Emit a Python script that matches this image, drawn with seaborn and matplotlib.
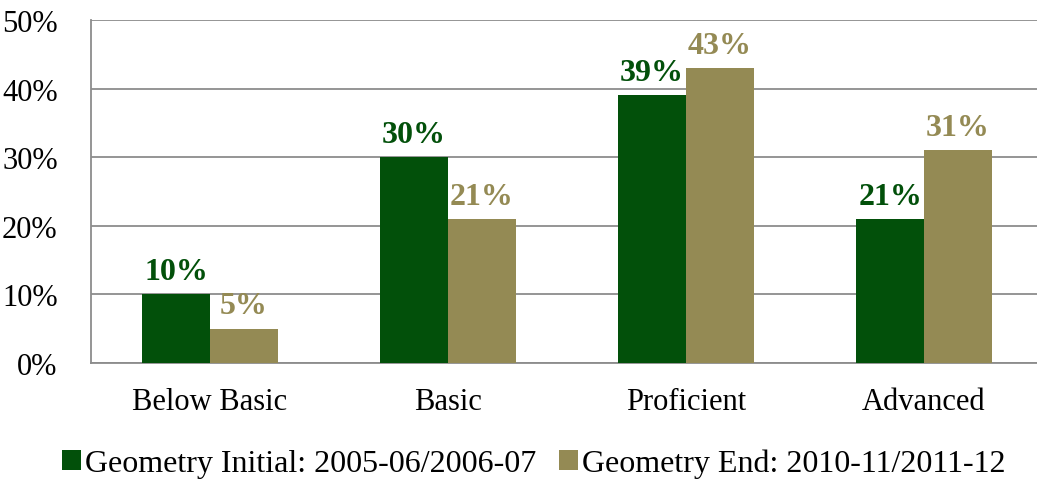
import numpy as np
import pandas as pd
import matplotlib.pyplot as plt
import seaborn as sns
from matplotlib.ticker import FuncFormatter

# Chart values
categories = ["Below Basic", "Basic", "Proficient", "Advanced"]
series_names = ["Geometry Initial: 2005-06/2006-07", "Geometry End: 2010-11/2011-12"]
initial_vals = [10, 30, 39, 21]
end_vals = [5, 21, 43, 31]
colors = ["#02500A", "#948A54"]

df = pd.DataFrame({
    "level": categories * 2,
    "pct": initial_vals + end_vals,
    "series": [series_names[0]] * 4 + [series_names[1]] * 4,
})

sns.set_style("white")
plt.rcParams['font.family'] = ['Liberation Serif', 'DejaVu Serif']
plt.rcParams['text.color'] = 'black'

fig = plt.figure(figsize=(10.37, 4.81), dpi=100)
ax = fig.add_axes([91 / 1037, 117 / 481, 952 / 1037, 343 / 481])

sns.barplot(data=df, x="level", y="pct", hue="series", palette=colors,
            width=0.57, gap=0, saturation=1, linewidth=0, ax=ax, zorder=3)

ax.set_ylim(0, 50)
ax.set_xlim(-0.5, 3.5)
ax.set_yticks(np.arange(0, 51, 10))
ax.yaxis.set_major_formatter(FuncFormatter(lambda v, p: f"{v:.0f}%"))
ax.grid(axis="y", color="#8c8c8c", linewidth=1.3, zorder=0)
ax.set_xlabel("")
ax.set_ylabel("")

# category separators as tick marks
ax.set_xticks([0, 1, 2, 3])
ax.set_xticks(np.arange(-0.5, 3.6, 1), minor=True)
ax.tick_params(axis="x", which="major", length=0, labelsize=22, pad=17, colors="black")
ax.tick_params(axis="x", which="minor", length=9, width=1.3, color="#8c8c8c")
ax.tick_params(axis="y", length=9, width=1.3, color="#8c8c8c", labelcolor="black",
               labelsize=22, pad=15)

for s in ["top", "right"]:
    ax.spines[s].set_visible(False)
for s in ["left", "bottom"]:
    ax.spines[s].set_color("#8c8c8c")
    ax.spines[s].set_linewidth(1.3)

for cont, col in zip(ax.containers, colors):
    ax.bar_label(cont, labels=[f"{v:.0f}%" for v in cont.datavalues],
                 color=col, fontsize=23, fontweight="bold", padding=6)

leg = ax.legend(loc="center", bbox_to_anchor=(0.465, -0.293),
                ncol=2, frameon=False, fontsize=23, handlelength=0.6, handleheight=0.6,
                handletextpad=0.12, columnspacing=0.7, borderaxespad=0, labelcolor="black")

fig.savefig("out.png", dpi=100)
